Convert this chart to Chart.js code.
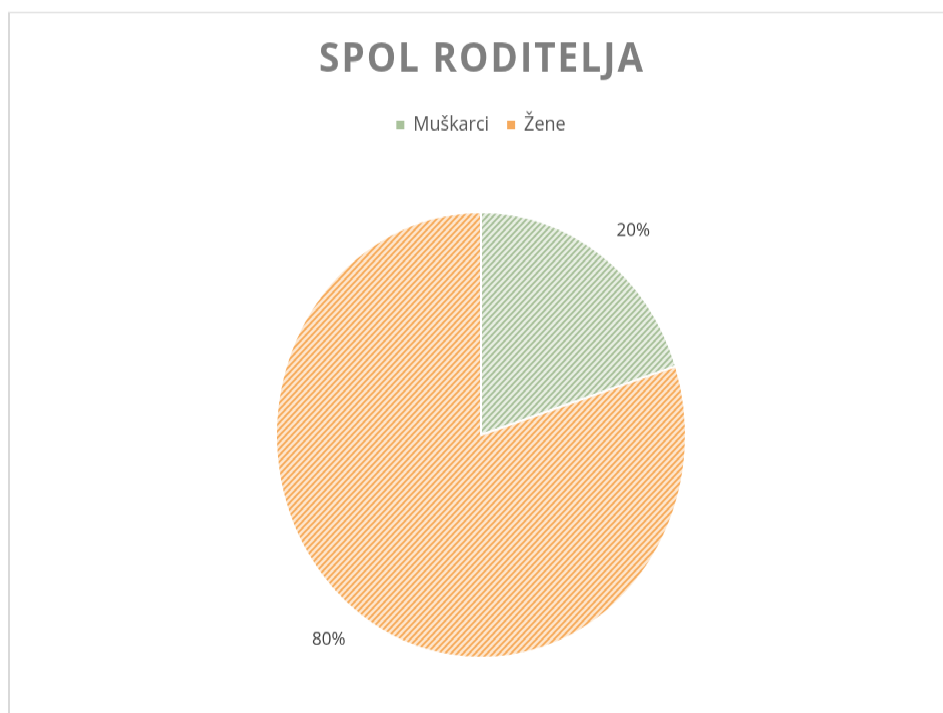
<!DOCTYPE html>
<html>
<head>
<meta charset="utf-8">
<script src="https://cdn.jsdelivr.net/npm/chart.js@4.4.1/dist/chart.umd.min.js"></script>
<style>
	html, body { margin: 0; padding: 0; background: #fff; overflow: hidden; width: 943px; height: 713px; }
	#stage { position: absolute; left: 0; top: 0; width: 943px; height: 655px; transform: scaleY(1.0876); transform-origin: 0 0; }
	#frame { position: absolute; left: 8px; top: 11px; width: 960px; height: 720px; border-top: 1px solid #d9d9d9; border-left: 2px solid #d9d9d9; }
	#wrap { position: absolute; left: 9px; top: 11px; width: 944px; height: 700px; }
</style>
</head>
<body>
<div id="stage">
	<div id="frame"></div>
	<div id="wrap"><canvas id="chart"></canvas></div>
</div>
<script>
const title = "SPOL RODITELJA";
const labels = ["Muškarci", "Žene"];
const values = [20, 80];
const colors = ["#a9c29b", "#f5a95c"];
const lines = ["#a3bd95", "#f6a753"];
const fills = ["#e8efe3", "#fde6cd"];

// hatch tile like the Excel pattern fill
const hatch = (fg, bg) => {
	const size = 6;
	const tile = document.createElement("canvas");
	tile.width = size;
	tile.height = size;
	const c = tile.getContext("2d");
	c.fillStyle = bg;
	c.fillRect(0, 0, size, size);
	c.strokeStyle = fg;
	c.lineWidth = 1.7;
	c.beginPath();
	c.moveTo(-1, size + 1);
	c.lineTo(size + 1, -1);
	c.moveTo(-1, 1);
	c.lineTo(1, -1);
	c.moveTo(size - 1, size + 1);
	c.lineTo(size + 1, size - 1);
	c.stroke();
	return c.createPattern(tile, "repeat");
};

const titleDraw = {
	id: "titleDraw",
	afterDraw(chart) {
		const { ctx, width } = chart;
		ctx.save();
		ctx.font = "bold 37px 'Open Sans'";
		ctx.letterSpacing = "2px";
		ctx.fillStyle = "#7f7f7f";
		ctx.textAlign = "center";
		ctx.textBaseline = "middle";
		ctx.fillText(title, width / 2 + 1, 44);
		ctx.restore();
	},
};

const pctLabels = {
	id: "pctLabels",
	afterDatasetsDraw(chart) {
		const { ctx } = chart;
		const total = values.reduce((a, b) => a + b, 0);
		ctx.save();
		ctx.font = "17px 'Open Sans'";
		ctx.fillStyle = "#404040";
		ctx.textAlign = "center";
		ctx.textBaseline = "middle";
		chart.getDatasetMeta(0).data.forEach((arc, i) => {
			const mid = (arc.startAngle + arc.endAngle) / 2 + Math.PI / 60;
			const r = arc.outerRadius * 1.18;
			const x = arc.x + Math.cos(mid) * r;
			const y = arc.y + Math.sin(mid) * r;
			ctx.fillText(Math.round((values[i] / total) * 100) + "%", x, y);
		});
		ctx.restore();
	},
};

new Chart(document.getElementById("chart"), {
	type: "pie",
	data: {
		labels,
		datasets: [{
			data: values,
			backgroundColor: values.map((v, i) => hatch(lines[i], fills[i])),
			borderColor: "#ffffff",
			borderWidth: 2,
			radius: 205,
		}],
	},
	plugins: [titleDraw, pctLabels],
	options: {
		responsive: true,
		maintainAspectRatio: false,
		animation: false,
		layout: { padding: { top: 77, bottom: 45 } },
		plugins: {
			tooltip: { enabled: false },
			legend: {
				position: "top",
				labels: {
					boxWidth: 8,
					boxHeight: 8,
					padding: 18,
					color: "#595959",
					font: { family: "'Open Sans'", size: 18 },
					generateLabels: () => labels.map((text, i) => ({
						text,
						fillStyle: colors[i],
						strokeStyle: colors[i],
						lineWidth: 0,
						fontColor: "#595959",
						index: i,
					})),
				},
			},
		},
	},
});
</script>
</body>
</html>
